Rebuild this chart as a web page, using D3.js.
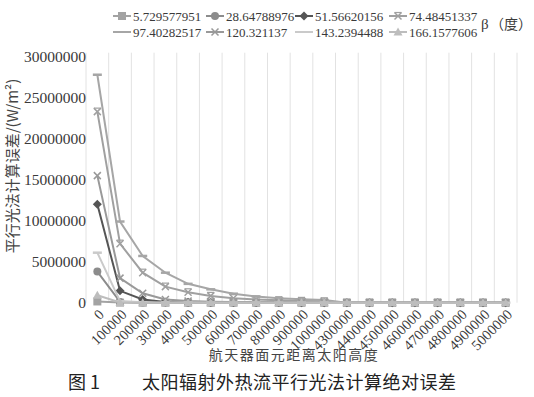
<!DOCTYPE html>
<html>
<head>
<meta charset="utf-8">
<script src="https://cdn.jsdelivr.net/npm/d3@7"></script>
<style>
  body { margin: 0; background: #fff; }
</style>
</head>
<body>
<script>
// categories: distance of the panel from the sun
const heights = ['0', '100000', '200000', '300000', '400000', '500000', '600000', '700000',
  '800000', '900000', '1000000', '4300000', '4400000', '4500000', '4600000', '4700000',
  '4800000', '4900000', '5000000'];

const betas = ['5.729577951', '28.64788976', '51.56620156', '74.48451337',
  '97.40282517', '120.321137', '143.2394488', '166.1577606'];

// values in W/m^2
const s1 = [150000, 10000, 5000, 3000, 2000, 1000, 1000, 1000, 1000, 1000, 1000, 0, 0, 0, 0, 0, 0, 0, 0];
const s2 = [3800000, 100000, 20000, 10000, 5000, 3000, 2000, 1000, 1000, 1000, 1000, 0, 0, 0, 0, 0, 0, 0, 0];
const s3 = [12000000, 1450000, 400000, 100000, 50000, 30000, 20000, 10000, 10000, 5000, 5000, 0, 0, 0, 0, 0, 0, 0, 0];
const s4 = [23300000, 7200000, 3660000, 1960000, 1270000, 830000, 550000, 400000, 300000, 220000, 170000, 3000, 2500, 2000, 2000, 1500, 1500, 1000, 1000];
const s5 = [27800000, 9900000, 5700000, 3660000, 2300000, 1630000, 1100000, 750000, 550000, 420000, 330000, 5000, 4000, 3500, 3000, 2500, 2000, 2000, 1500];
const s6 = [15500000, 3000000, 1150000, 400000, 200000, 130000, 90000, 60000, 40000, 30000, 20000, 1000, 1000, 1000, 1000, 1000, 0, 0, 0];
const s7 = [6100000, 200000, 50000, 20000, 10000, 5000, 3000, 2000, 1000, 1000, 1000, 0, 0, 0, 0, 0, 0, 0, 0];
const s8 = [900000, 20000, 5000, 2000, 1000, 1000, 0, 0, 0, 0, 0, 0, 0, 0, 0, 0, 0, 0, 0];

const yTicks = [0, 5000000, 10000000, 15000000, 20000000, 25000000, 30000000];

const series = [
  { name: betas[0], values: s1, color: '#a3a3a3', marker: 'square' },
  { name: betas[1], values: s2, color: '#8c8c8c', marker: 'circle' },
  { name: betas[2], values: s3, color: '#555555', marker: 'diamond' },
  { name: betas[3], values: s4, color: '#a0a0a0', marker: 'star' },
  { name: betas[4], values: s5, color: '#a6a6a6', marker: 'dash' },
  { name: betas[5], values: s6, color: '#999999', marker: 'cross' },
  { name: betas[6], values: s7, color: '#cacaca', marker: 'dash' },
  { name: betas[7], values: s8, color: '#bdbdbd', marker: 'triangle' }
];

const SERIF = '"Liberation Serif"';
const CJK = '"Noto Sans CJK SC"';

const width = 534, height = 397;
const plotLeft = 86, plotRight = 517, plotTop = 56.7, plotBottom = 302.7;

const svg = d3.select('body').append('svg')
  .attr('width', width)
  .attr('height', height);

const x = d3.scaleBand().domain(heights).range([plotLeft, plotRight]);
const y = d3.scaleLinear().domain([0, 30000000]).range([plotBottom, plotTop]);
const cx = d => x(d) + x.bandwidth() / 2;

// vertical gridlines between categories
svg.append('g').selectAll('line')
  .data(d3.range(heights.length + 1))
  .join('line')
  .attr('x1', i => plotLeft + i * x.bandwidth())
  .attr('x2', i => plotLeft + i * x.bandwidth())
  .attr('y1', plotTop - 4)
  .attr('y2', plotBottom)
  .attr('stroke', '#e2e2e2')
  .attr('stroke-width', 1);

// y axis labels
const yAxis = svg.append('g')
  .attr('transform', `translate(${plotLeft + 3},0)`)
  .call(d3.axisLeft(y).tickValues(yTicks).tickSize(0).tickFormat(d3.format('d')));
yAxis.attr('font-family', SERIF).attr('font-size', 15.5);
yAxis.select('.domain').remove();
yAxis.selectAll('text').attr('fill', '#3a3a3a');

// x axis labels, rotated
svg.append('g').selectAll('text')
  .data(heights)
  .join('text')
  .attr('transform', d => `translate(${cx(d) + 4},${plotBottom + 9}) rotate(-45)`)
  .attr('text-anchor', 'end')
  .attr('dy', '0.35em')
  .attr('font-family', SERIF)
  .attr('font-size', 14.5)
  .attr('fill', '#3a3a3a')
  .text(d => d);

function drawMarker(g, type, color, px, py) {
  if (type === 'square') {
    g.append('rect').attr('x', px - 4).attr('y', py - 4).attr('width', 8).attr('height', 8).attr('fill', color);
  } else if (type === 'circle') {
    g.append('circle').attr('cx', px).attr('cy', py).attr('r', 4).attr('fill', color);
  } else if (type === 'diamond') {
    g.append('path').attr('d', `M${px},${py - 4.5}L${px + 4.5},${py}L${px},${py + 4.5}L${px - 4.5},${py}Z`).attr('fill', color);
  } else if (type === 'triangle') {
    g.append('path').attr('d', `M${px},${py - 4.5}L${px + 4.5},${py + 3.5}L${px - 4.5},${py + 3.5}Z`).attr('fill', color);
  } else if (type === 'dash') {
    g.append('line').attr('x1', px - 4.5).attr('x2', px + 4.5).attr('y1', py).attr('y2', py)
      .attr('stroke', color).attr('stroke-width', 2.5);
  } else if (type === 'cross' || type === 'star') {
    g.append('path').attr('d', `M${px - 3.5},${py - 3.5}L${px + 3.5},${py + 3.5}M${px + 3.5},${py - 3.5}L${px - 3.5},${py + 3.5}`)
      .attr('stroke', color).attr('stroke-width', 1.5).attr('fill', 'none');
    if (type === 'star') {
      g.append('line').attr('x1', px - 3.5).attr('x2', px + 3.5).attr('y1', py - 3.5).attr('y2', py - 3.5)
        .attr('stroke', color).attr('stroke-width', 1.2);
    }
  }
}

const line = d3.line()
  .x((d, i) => cx(heights[i]))
  .y(d => y(d));

series.forEach(s => {
  const g = svg.append('g');
  g.append('path')
    .datum(s.values)
    .attr('d', line)
    .attr('fill', 'none')
    .attr('stroke', s.color)
    .attr('stroke-width', 2);
  s.values.forEach((v, i) => drawMarker(g, s.marker, s.color, cx(heights[i]), y(v)));
});

// legend, two rows of four
const legX = [113, 206, 295, 389];
const legend = svg.append('g');
series.forEach((s, i) => {
  const lx = legX[i % 4], ly = i < 4 ? 16 : 32;
  const g = legend.append('g');
  g.append('line').attr('x1', lx).attr('x2', lx + 18).attr('y1', ly).attr('y2', ly)
    .attr('stroke', s.color).attr('stroke-width', 2);
  if (i !== 4 && i !== 6) drawMarker(g, s.marker, s.color, lx + 9, ly);
  g.append('text').attr('x', lx + 20).attr('y', ly).attr('dy', '0.35em')
    .attr('font-family', SERIF).attr('font-size', 13).attr('fill', '#3a3a3a')
    .text(s.name);
});
legend.append('text').attr('x', 481).attr('y', 24).attr('dy', '0.35em')
  .attr('font-family', SERIF).attr('font-size', 15).attr('fill', '#3a3a3a').text('β');
legend.append('text').attr('x', 490).attr('y', 24).attr('dy', '0.35em')
  .attr('font-family', CJK).attr('font-size', 14).attr('fill', '#3a3a3a').text('（度）');

// y axis title
svg.append('text')
  .attr('transform', 'translate(18,166) rotate(-90)')
  .attr('text-anchor', 'middle')
  .attr('font-family', CJK)
  .attr('font-size', 15)
  .attr('fill', '#444')
  .text('平行光法计算误差/(W/m²)');

// x axis title
svg.append('text')
  .attr('x', 294).attr('y', 355)
  .attr('text-anchor', 'middle')
  .attr('dy', '0.35em')
  .attr('font-family', CJK)
  .attr('font-size', 14)
  .attr('letter-spacing', 1.5)
  .attr('fill', '#444')
  .text('航天器面元距离太阳高度');

// caption
const caption = svg.append('g').attr('font-family', CJK).attr('fill', '#222').attr('font-size', 18);
caption.append('text').attr('x', 68).attr('y', 383).attr('dy', '0.35em').text('图 1');
caption.append('text').attr('x', 142).attr('y', 383).attr('dy', '0.35em')
  .attr('letter-spacing', 0.5)
  .text('太阳辐射外热流平行光法计算绝对误差');
</script>
</body>
</html>
